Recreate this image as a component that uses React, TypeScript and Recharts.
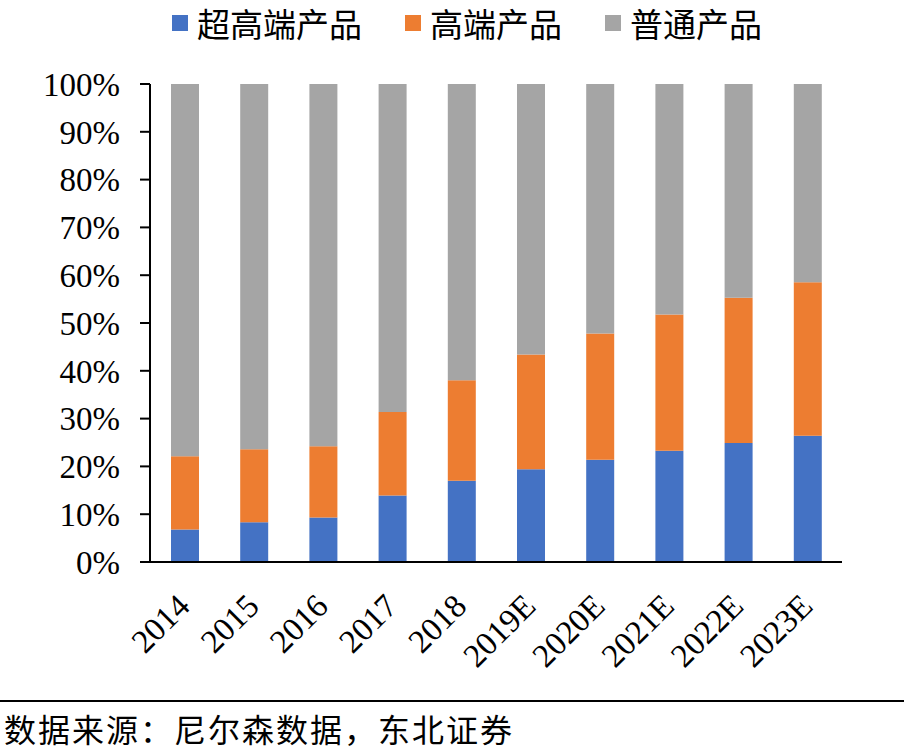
import { BarChart, Bar, XAxis, YAxis, Legend } from 'recharts'

const YEARS = ['2014', '2015', '2016', '2017', '2018', '2019E', '2020E', '2021E', '2022E', '2023E']
// share of each tier, %
const SUPER_HIGH = [6.8, 8.3, 9.3, 13.9, 17.0, 19.4, 21.4, 23.3, 24.9, 26.4]
const HIGH = [15.3, 15.3, 14.9, 17.5, 21.0, 24.0, 26.4, 28.5, 30.4, 32.1]
const NORMAL = [77.9, 76.4, 75.8, 68.6, 62.0, 56.6, 52.2, 48.2, 44.7, 41.5]
const Y_TICKS = [0, 10, 20, 30, 40, 50, 60, 70, 80, 90, 100]

const SERIES = [
  { key: 'superHigh', name: '超高端产品', color: '#4472C4' },
  { key: 'high', name: '高端产品', color: '#ED7D31' },
  { key: 'normal', name: '普通产品', color: '#A5A5A5' },
]

const data = YEARS.map((year, i) => ({
  year,
  superHigh: SUPER_HIGH[i],
  high: HIGH[i],
  normal: NORMAL[i],
}))

const SERIF = '"Liberation Serif", "Times New Roman", serif'
const CJK = '"Noto Sans CJK SC", sans-serif'

function XTick({ x, y, payload }: any) {
  return (
    <g transform={`translate(${x + 7},${y + 46})`}>
      <text textAnchor="end" transform="rotate(-45)" fontFamily={SERIF} fontSize={33} fill="#000">
        {payload.value}
      </text>
    </g>
  )
}

function LegendRow() {
  return (
    <div
      style={{
        height: 84,
        display: 'flex',
        justifyContent: 'flex-start',
        alignItems: 'flex-start',
        paddingLeft: 172,
        boxSizing: 'border-box',
      }}
    >
      {SERIES.map((s) => (
        <div key={s.key} style={{ display: 'flex', alignItems: 'center', marginRight: 43, marginTop: 2 }}>
          <span style={{ width: 16, height: 16, background: s.color, marginRight: 9 }} />
          <span style={{ fontFamily: CJK, fontSize: 33, color: '#000', lineHeight: '42px' }}>{s.name}</span>
        </div>
      ))}
    </div>
  )
}

export default function App() {
  return (
    <div style={{ position: 'absolute', left: 0, top: 0, width: 904, height: 752, background: '#fff' }}>
      <BarChart
        width={904}
        height={690}
        data={data}
        margin={{ top: 0, right: 62, left: 0, bottom: 28 }}
        barSize={28}
      >
        <Legend verticalAlign="top" content={() => <LegendRow />} />
        <YAxis
          width={150}
          domain={[0, 100]}
          ticks={Y_TICKS}
          interval={0}
          tickFormatter={(v) => `${v}%`}
          tick={{ fontFamily: SERIF, fontSize: 33, fill: '#000' }}
          axisLine={{ stroke: '#000', strokeWidth: 2 }}
          tickLine={{ stroke: '#000', strokeWidth: 2 }}
          tickSize={10}
          tickMargin={20}
        />
        <XAxis
          dataKey="year"
          height={100}
          interval={0}
          tick={<XTick />}
          tickLine={false}
          tickSize={0}
          tickMargin={0}
          axisLine={{ stroke: '#000', strokeWidth: 2 }}
        />
        {SERIES.map((s) => (
          <Bar key={s.key} dataKey={s.key} name={s.name} stackId="a" fill={s.color} isAnimationActive={false} />
        ))}
      </BarChart>
      <div style={{ position: 'absolute', left: 0, top: 700, width: 904, height: 2, background: '#000' }} />
      <div
        style={{
          position: 'absolute',
          left: 4,
          top: 710,
          fontFamily: CJK,
          fontSize: 32,
          letterSpacing: 2,
          lineHeight: '36px',
          color: '#000',
          whiteSpace: 'nowrap',
        }}
      >
        数据来源：尼尔森数据，东北证券
      </div>
    </div>
  )
}
